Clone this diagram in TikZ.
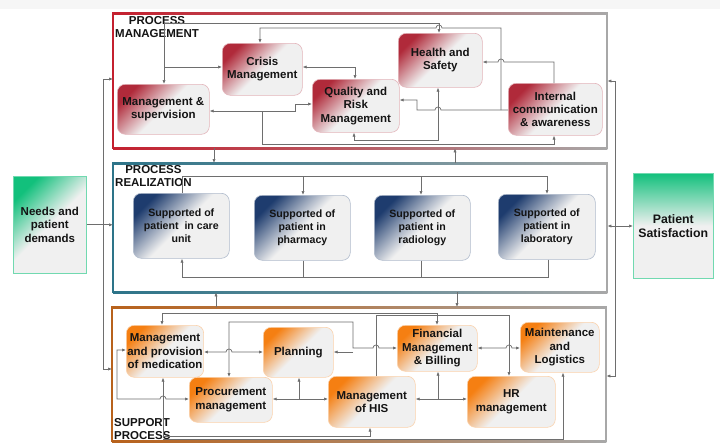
\documentclass[tikz,border=0pt]{standalone}
\usepackage{fontspec}
\setmainfont{Liberation Sans}
\usetikzlibrary{arrows.meta}
\definecolor{secgray}{HTML}{A8A8A8}
\definecolor{linegray}{HTML}{6E6E6E}
\definecolor{topred}{HTML}{C4202F}
\definecolor{midteal}{HTML}{2D7489}
\definecolor{botorange}{HTML}{B8621C}
\definecolor{reddark}{HTML}{B02A3A}
\definecolor{bluedark}{HTML}{1E3C6E}
\definecolor{orangedark}{HTML}{F57F12}
\definecolor{greendark}{HTML}{12C07C}
\definecolor{nodegray}{HTML}{F0F0F0}
\definecolor{txt}{HTML}{141414}
\begin{document}
\begin{tikzpicture}[x=1pt,y=-1pt,
  >={Latex[length=4pt,width=3.2pt]},
  conn/.style={draw=linegray,line width=0.7pt},
  box/.style={rounded corners=8pt,inner sep=1pt,align=center,anchor=north west,
    font=\fontsize{11.5}{13.3}\selectfont\bfseries,text=txt,line width=0.6pt},
  redbox/.style={box,draw=reddark!35,top color=reddark,bottom color=nodegray,middle color=nodegray,shading angle=45},
  bluebox/.style={box,font=\fontsize{10.6}{13.3}\selectfont\bfseries,draw=bluedark!35,top color=bluedark,bottom color=nodegray,middle color=nodegray,shading angle=45},
  orbox/.style={box,draw=orangedark!35,top color=orangedark,bottom color=nodegray,middle color=nodegray,shading angle=45},
  sec/.style={inner sep=0pt,anchor=north west},
  ttl/.style={inner sep=0pt,anchor=north west,font=\fontsize{11.5}{13.3}\selectfont\bfseries,text=txt}]
\useasboundingbox (0,0) rectangle (720,442);
\fill[white] (0,0) rectangle (720,442);
\fill[nodegray!60] (0,0) rectangle (720,9);
% section frames
\node[sec,minimum width=494pt,minimum height=135pt] (secA) at (113,13) {};
\node[sec,minimum width=494pt,minimum height=129pt] (secB) at (113,163) {};
\node[sec,minimum width=494pt,minimum height=134pt] (secC) at (112,307) {};
\foreach \s/\c in {secA/topred,secB/midteal,secC/botorange}{
  \draw[line width=2pt,secgray] (\s.north west) rectangle (\s.south east);
  \shade[left color=\c,right color=secgray,middle color=\c!55!secgray]
    ([yshift=1pt]\s.north west) rectangle ([yshift=-1pt]\s.north east);
  \shade[left color=\c,right color=secgray,middle color=\c!55!secgray]
    ([yshift=1pt]\s.south west) rectangle ([yshift=-1pt]\s.south east);
  \draw[line width=2pt,\c] ([yshift=1pt]\s.north west) -- ([yshift=-1pt]\s.south west);
}
% titles
\node[ttl,align=center] (tA) at (115,16) {PROCESS\\MANAGEMENT};
\node[ttl,align=center] (tB) at (115,165) {PROCESS\\REALIZATION};
\node[ttl,align=left] (tC) at (114,418) {SUPPORT\\PROCESS};
% side boxes
\node[box,rounded corners=0pt,draw=greendark!60,top color=greendark,bottom color=nodegray,middle color=nodegray,shading angle=45,minimum width=73pt,minimum height=97pt] (needs) at (13,176) {Needs and\\patient\\demands};
\node[box,rounded corners=0pt,font=\fontsize{12.3}{14}\selectfont\bfseries,draw=greendark!60,top color=greendark,bottom color=nodegray,middle color=nodegray,minimum width=80pt,minimum height=105pt] (sat) at (633,173) {Patient\\Satisfaction};
% top nodes
\node[redbox,minimum width=80pt,minimum height=52pt] (crisis) at (222,43) {Crisis\\Management};
\node[redbox,minimum width=92pt,minimum height=50pt] (mgmt) at (117,84) {Management \&\\supervision};
\node[redbox,minimum width=87pt,minimum height=53pt] (qual) at (312,79) {Quality and\\Risk\\Management};
\node[redbox,minimum width=84pt,minimum height=54pt] (hs) at (398,33) {Health and\\Safety};
\node[redbox,minimum width=94pt,minimum height=52pt] (ic) at (508,83) {Internal\\communication\\\& awareness};
% middle nodes
\node[bluebox,minimum width=96pt,minimum height=65pt] (care) at (133,193) {Supported of\\patient\ \ in care\\unit};
\node[bluebox,minimum width=96pt,minimum height=65pt] (pharm) at (254,195) {Supported of\\patient in\\pharmacy};
\node[bluebox,minimum width=96pt,minimum height=65pt] (radio) at (374,195) {Supported of\\patient in\\radiology};
\node[bluebox,minimum width=97pt,minimum height=65pt] (lab) at (498,194) {Supported of\\patient in\\laboratory};
% bottom nodes
\node[orbox,minimum width=77pt,minimum height=52pt] (med) at (126,325) {Management\\and provision\\of medication};
\node[orbox,minimum width=70pt,minimum height=50pt] (plan) at (263,327) {Planning};
\node[orbox,minimum width=83pt,minimum height=45pt] (proc) at (189,377) {Procurement\\management};
\node[orbox,minimum width=87pt,minimum height=51pt] (his) at (328,376) {Management\\of HIS};
\node[orbox,minimum width=80pt,minimum height=46pt] (fin) at (397,325) {Financial\\Management\\\& Billing};
\node[orbox,minimum width=79pt,minimum height=50pt] (maint) at (520,322) {Maintenance\\and\\Logistics};
\node[orbox,minimum width=88pt,minimum height=51pt] (hr) at (467,376) {HR\\management};
% outer connectors
\draw[conn,<->] (secA.west |- 0,79) -- (103,79) -- (103,369) -- (secC.west |- 0,369);
\draw[conn,->] (needs.east) -- (secB.west |- needs.east);
\draw[conn,<->] (secA.east |- 0,81) -- (615,81) -- (615,376) -- (secC.east |- 0,376);
\draw[conn,<->] (secB.east |- 0,226) -- (sat.west |- 0,226);
\draw[conn,->] (214,0 |- secA.south) -- (214,0 |- secB.north);
\draw[conn,->] (455,0 |- secB.north) -- (455,0 |- secA.south);
\draw[conn,->] (216,0 |- secC.north) -- (216,0 |- secB.south);
\draw[conn,->] (457,0 |- secB.south) -- (457,0 |- secC.north);
% top connectors
\draw[conn,<->] (439,0 |- hs.north) -- (439,23) -- (164,23) -- (164,0 |- mgmt.north);
\draw[conn,->] (164,67) -- (crisis.west |- 0,67);
\draw[conn,<->] (crisis.east |- 0,67) -- (355,67) -- (355,0 |- qual.north);
\draw[conn,<->] (mgmt.east |- 0,111) -- (295,111) -- (295,104) -- (qual.west |- 0,104);
\draw[conn,->] (262,111) -- (262,144) -- (554,144) -- (554,0 |- ic.south);
\draw[conn,<->] (354,0 |- qual.south) -- (354,140) -- (438,140) -- (438,0 |- hs.south);
\draw[conn,->] (ic.west |- 0,110) -- (441,110) arc[start angle=0,end angle=180,radius=3pt] -- (417,110) -- (417,100) -- (qual.east |- 0,100);
\draw[conn,->] (501,110) -- (501,28) -- (442,28) arc[start angle=0,end angle=180,radius=3pt] -- (260,28) -- (260,0 |- crisis.north);
\draw[conn,->] (554,0 |- ic.north) -- (554,62) -- (504,62) arc[start angle=0,end angle=180,radius=3pt] -- (hs.east |- 0,62);
% middle connectors
\draw[conn] (182,0 |- care.north) -- (182,176) -- (547,176);
\draw[conn,->] (303,176) -- (303,0 |- pharm.north);
\draw[conn,->] (421,176) -- (421,0 |- radio.north);
\draw[conn,->] (547,176) -- (547,0 |- lab.north);
\draw[conn,->] (548,0 |- lab.south) -- (548,277) -- (182,277) -- (182,0 |- care.south);
\draw[conn] (303,0 |- pharm.south) -- (303,277);
\draw[conn] (421,0 |- radio.south) -- (421,277);
% bottom connectors
\draw[conn,<->] (162,0 |- med.north) -- (162,313) -- (437,313) -- (437,0 |- fin.north);
\draw[conn,->] (376,0 |- his.north) -- (376,315) -- (509,315) -- (509,0 |- hr.north);
\draw[conn,<->] (229,0 |- proc.north) -- (229,322) -- (353,322) -- (353,348) -- (373,348) arc[start angle=180,end angle=0,radius=3pt] -- (fin.west |- 0,348);
\draw[conn,<->] (med.east |- 0,352) -- (226,352) arc[start angle=180,end angle=0,radius=3pt] -- (plan.west |- 0,352);
\draw[conn,->] (353,352) -- (plan.east |- 0,352);
\draw[conn,<->] (med.west |- 0,350) -- (117,350) -- (117,399) -- (160,399) arc[start angle=180,end angle=0,radius=3pt] -- (proc.west |- 0,399);
\draw[conn,<->] (163,0 |- med.south) -- (163,436) -- (370,436) -- (370,0 |- his.south);
\draw[conn,->] (163,439) -- (563,439) -- (563,0 |- maint.south);
\draw[conn,<->] (proc.east |- 0,399) -- (his.west |- 0,399);
\draw[conn,->] (299,399) -- (299,0 |- plan.south);
\draw[conn,<->] (his.east |- 0,399) -- (hr.west |- 0,399);
\draw[conn,->] (438,399) -- (438,0 |- fin.south);
\draw[conn,<->] (fin.east |- 0,348) -- (506,348) arc[start angle=180,end angle=0,radius=3pt] -- (maint.west |- 0,348);
\end{tikzpicture}
\end{document}
